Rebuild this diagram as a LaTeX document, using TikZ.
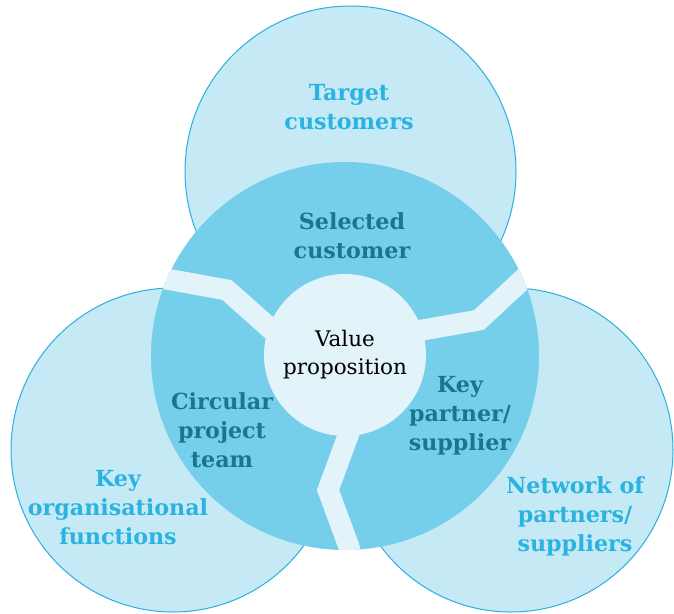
\documentclass[tikz,border=0pt]{standalone}
\usepackage{fontspec}
\setmainfont{DejaVu Serif}
\usetikzlibrary{positioning,calc}

\definecolor{outerfill}{HTML}{C5E9F5}
\definecolor{outerline}{HTML}{2AAFDF}
\definecolor{ringfill}{HTML}{76CFEA}
\definecolor{corefill}{HTML}{E2F3FA}
\definecolor{outertext}{HTML}{2AB3E1}
\definecolor{ringtext}{HTML}{177793}

\tikzset{
  outercircle/.style={circle,draw=outerline,line width=1pt,fill=outerfill,inner sep=0pt},
  outerlabel/.style={align=center,font=\fontsize{22.2}{29}\selectfont\bfseries,text=outertext},
  ringlabel/.style={align=center,font=\fontsize{22.2}{29}\selectfont\bfseries,text=ringtext},
  band/.style={corefill,line width=21pt,line join=miter}
}

\begin{document}
\begin{tikzpicture}[x=1pt,y=-1pt]
    \useasboundingbox (0,0) rectangle (674,613);

    % Outer circles
    \node[outercircle,minimum size=331pt] (target) at (350.5,171.5) {};
    \node[outercircle,minimum size=324pt] (functions) at (173,450) {};
    \node[outercircle,minimum size=324pt] (network) at (511,450) {};

    % Middle ring
    \node[circle,fill=ringfill,minimum size=388pt,inner sep=0pt] (ring) at (345,356) {};

    % Separating bands
    \begin{scope}
        \clip (ring.center) circle[radius=194pt];
        \draw[band] (150,276) -- (227,290) -- (300,355);
        \draw[band] (535,268) -- (479,320) -- (400,334);
        \draw[band] (349,420) -- (349,433) -- (328,490) -- (349,547) -- (352,560);
    \end{scope}

    % Value proposition
    \node[circle,fill=corefill,minimum size=162pt,inner sep=0pt] (core) at (345,355) {};
    \node[align=center,font=\fontsize{21.5}{28}\selectfont] (value) at (core.center) {Value\\proposition};

    % Labels
    \node[outerlabel] (targetlbl) at (349,107) {Target\\customers};
    \node[outerlabel] (functionslbl) at (118,508) {Key\\organisational\\functions};
    \node[outerlabel] (networklbl) at (575,516) {Network of\\partners/\\suppliers};
    \node[ringlabel] (selected) at (352,236) {Selected\\customer};
    \node[ringlabel] (team) at (222,430) {Circular\\project\\team};
    \node[ringlabel] (partner) at (460,416) {Key\\partner/\\supplier};
\end{tikzpicture}
\end{document}
